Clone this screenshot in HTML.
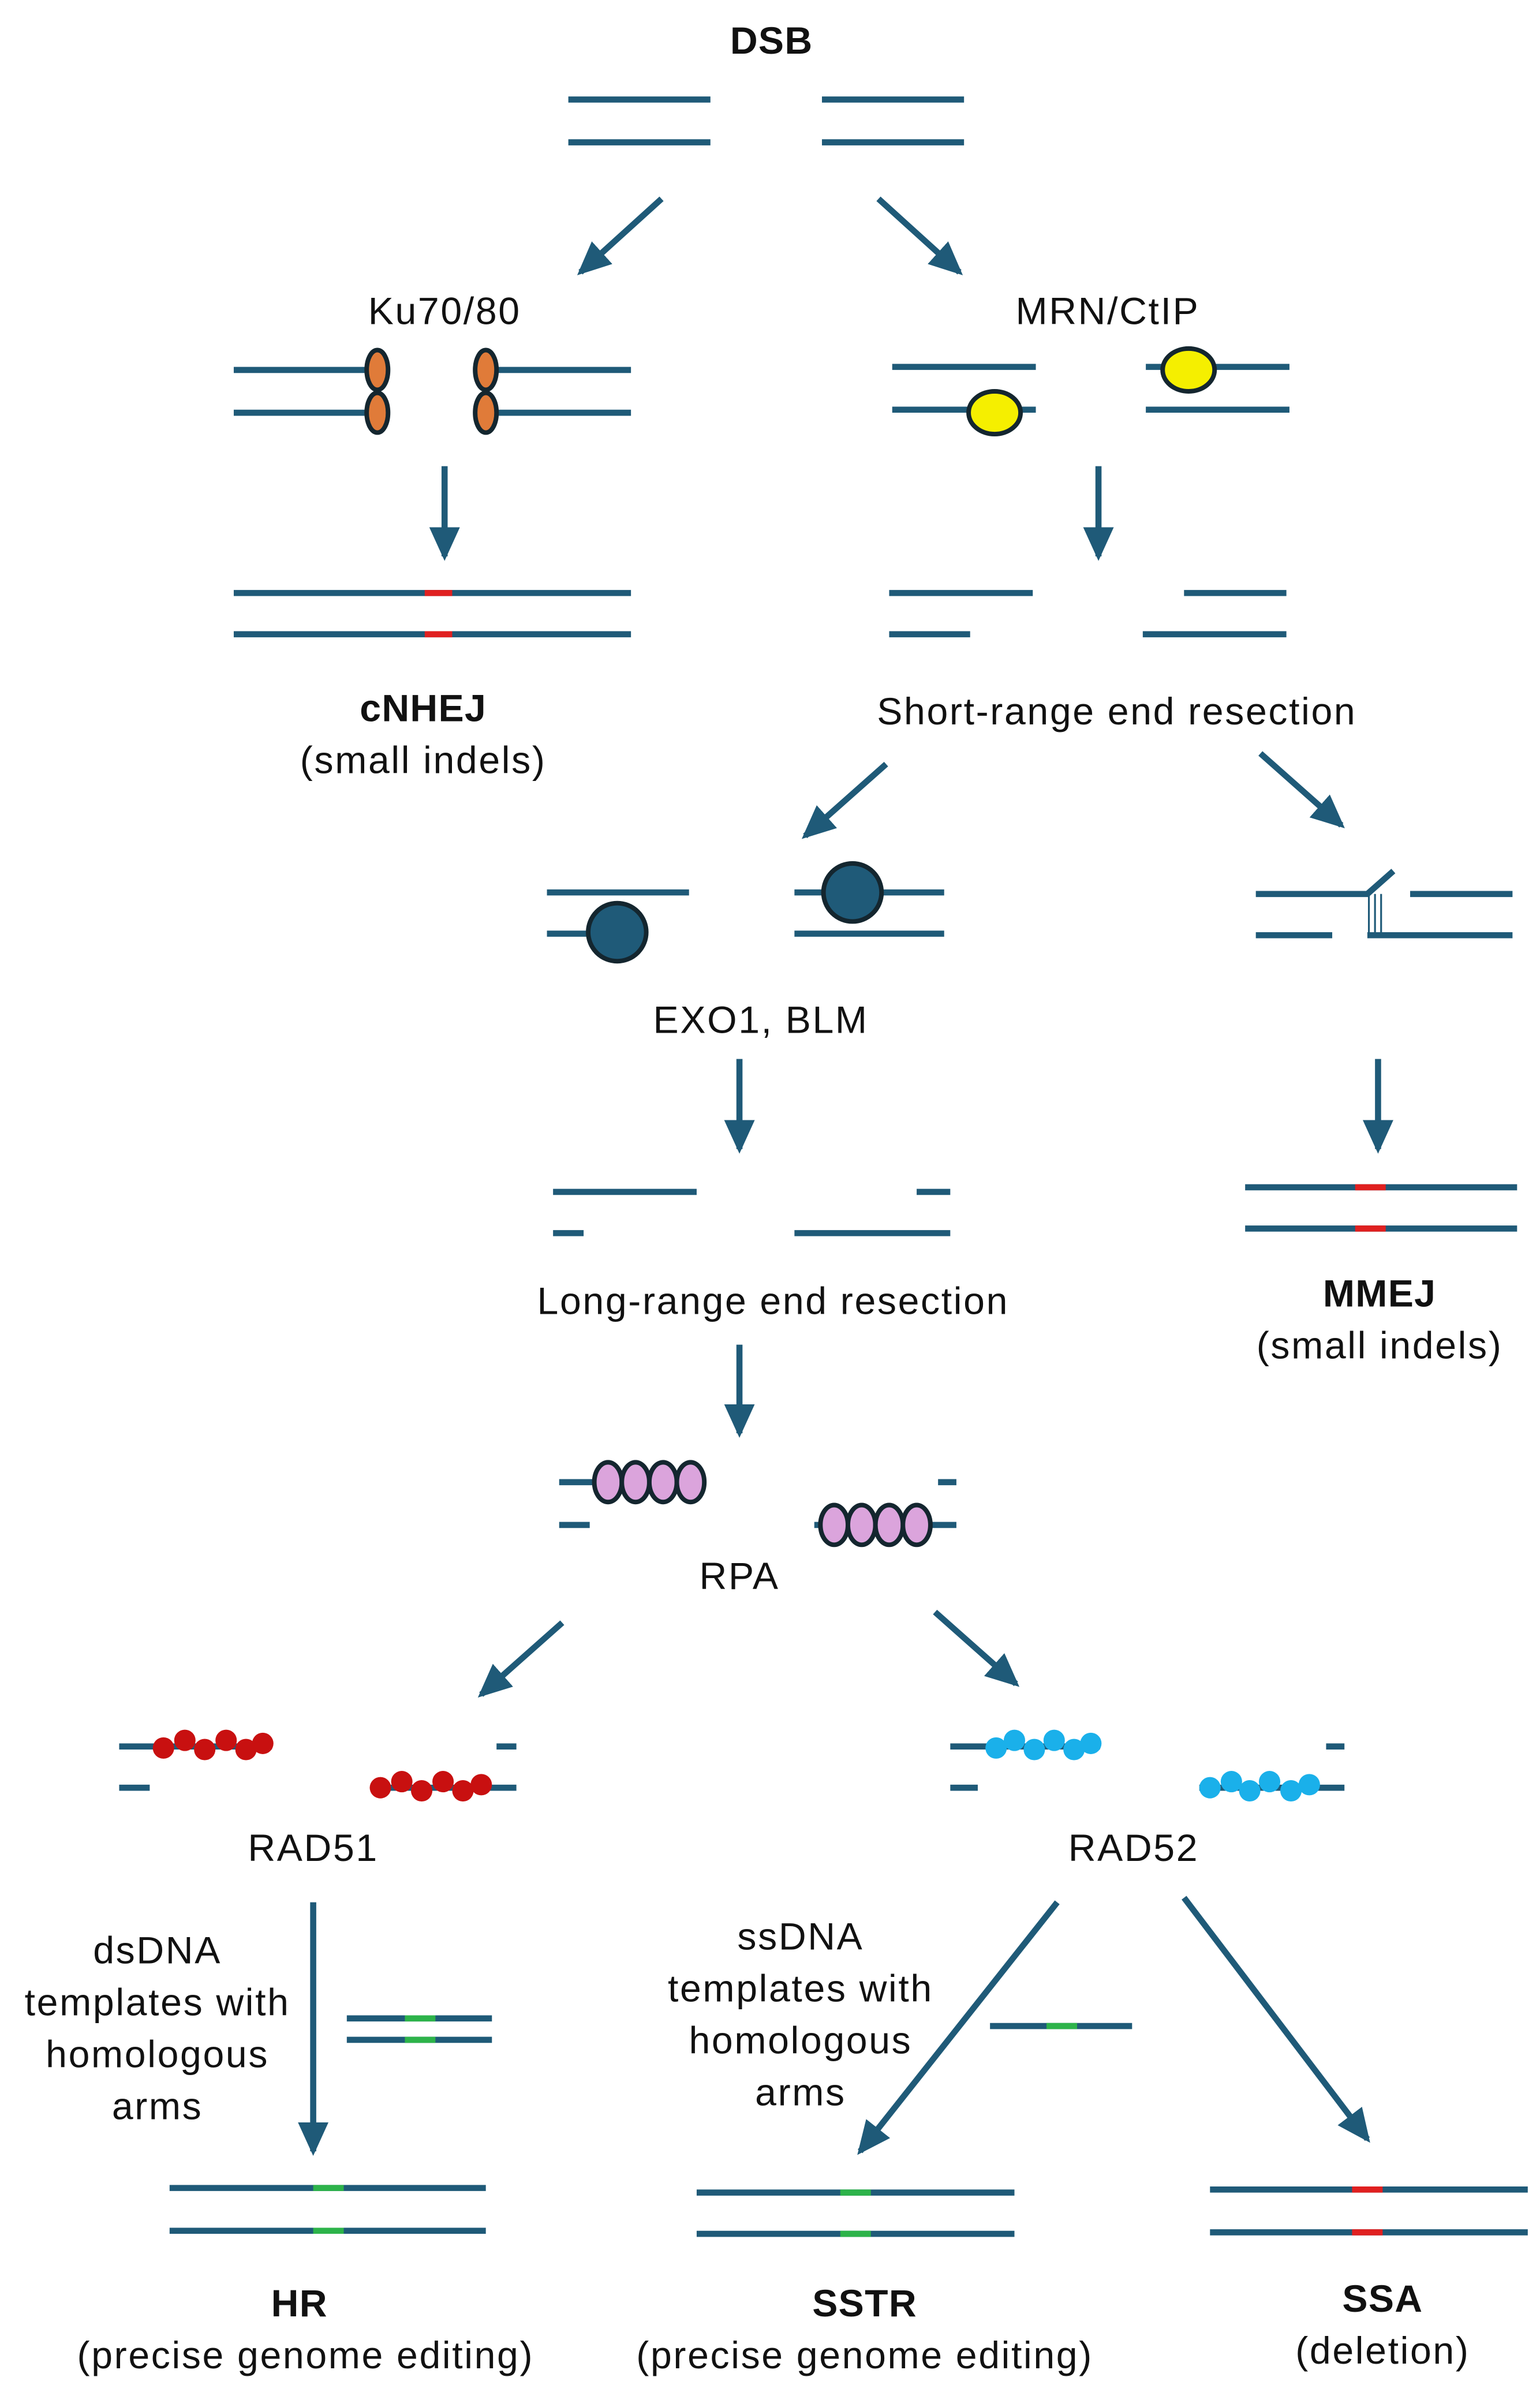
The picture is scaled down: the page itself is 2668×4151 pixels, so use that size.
<!DOCTYPE html>
<html><head><meta charset="utf-8"><style>
html,body{margin:0;padding:0;background:#fff}
svg{display:block}
text{font-family:"Liberation Sans",sans-serif;font-size:25px;letter-spacing:1px;fill:#111;text-anchor:middle}
.b{font-weight:bold;letter-spacing:0.5px}
</style></head><body>
<svg width="2668" height="4151" viewBox="0 0 1008 1568" xmlns="http://www.w3.org/2000/svg">
<defs>
<marker id="a" markerUnits="userSpaceOnUse" markerWidth="24" markerHeight="22" refX="19" refY="10" orient="auto">
<path d="M0,0 L22,10 L0,20 Z" fill="#1f5a78"/>
</marker>
</defs>
<g stroke="#1f5a78" stroke-width="4" fill="none">
<path d="M372 65H465M372 93H465M538 65H631M538 93H631"/>
<line x1="433" y1="130" x2="380" y2="178" marker-end="url(#a)"/>
<line x1="575" y1="130" x2="628" y2="178" marker-end="url(#a)"/>
<path d="M153 242H247M153 270H247M318 242H413M318 270H413"/>
<path d="M584 240H678M584 268H678M750 240H844M750 268H844"/>
<line x1="291" y1="305" x2="291" y2="364" marker-end="url(#a)"/>
<line x1="719" y1="305" x2="719" y2="364" marker-end="url(#a)"/>
<path d="M153 388H413M153 415H413"/>
<path d="M582 388H676M582 415H635M775 388H842M748 415H842"/>
<line x1="580" y1="500" x2="527" y2="547" marker-end="url(#a)"/>
<line x1="825" y1="493" x2="878" y2="540" marker-end="url(#a)"/>
<path d="M358 584H451M358 611H404M520 584H618M520 611H618"/>
<path d="M822 585H895L912 570M923 585H990M822 612H872M895 612H990"/>
<path d="M896 585V612M900 585V612M904 585V612" stroke-width="1.2"/>
<line x1="484" y1="693" x2="484" y2="752" marker-end="url(#a)"/>
<line x1="902" y1="693" x2="902" y2="752" marker-end="url(#a)"/>
<path d="M362 780H456M362 807H382M600 780H622M520 807H622"/>
<path d="M815 777H993M815 804H993"/>
<line x1="484" y1="880" x2="484" y2="938" marker-end="url(#a)"/>
<path d="M366 970H460M366 998H386M614 970H626M533 998H626"/>
<line x1="368" y1="1062" x2="315" y2="1109" marker-end="url(#a)"/>
<line x1="612" y1="1055" x2="665" y2="1102" marker-end="url(#a)"/>
<path d="M78 1143H178M78 1170H98M325 1143H338M243 1170H338"/>
<path d="M622 1143H720M622 1170H640M868 1143H880M785 1170H880"/>
<line x1="205" y1="1245" x2="205" y2="1408" marker-end="url(#a)"/>
<path d="M227 1321H322M227 1335H322"/>
<path d="M111 1432H318M111 1460H318"/>
<line x1="692" y1="1245" x2="563" y2="1408" marker-end="url(#a)"/>
<line x1="775" y1="1242" x2="895" y2="1400" marker-end="url(#a)"/>
<path d="M648 1326H741"/>
<path d="M456 1435H664M456 1462H664"/>
<path d="M792 1433H1000M792 1461H1000"/>
</g>
<g stroke-width="4">
<path d="M278 388H296M278 415H296" stroke="#e02020"/>
<path d="M887 777H907M887 804H907" stroke="#e02020"/>
<path d="M885 1433H905M885 1461H905" stroke="#e02020"/>
<path d="M265 1321H285M265 1335H285M205 1432H225M205 1460H225M685 1326H705M550 1435H570M550 1462H570" stroke="#2db34a"/>
</g>
<g stroke="#14262f" stroke-width="3">
<ellipse cx="247" cy="242" rx="7" ry="13" fill="#e07b39"/>
<ellipse cx="247" cy="270" rx="7" ry="13" fill="#e07b39"/>
<ellipse cx="318" cy="242" rx="7" ry="13" fill="#e07b39"/>
<ellipse cx="318" cy="270" rx="7" ry="13" fill="#e07b39"/>
<ellipse cx="651" cy="270" rx="17" ry="14" fill="#f5ef00"/>
<ellipse cx="778" cy="242" rx="17" ry="14" fill="#f5ef00"/>
<circle cx="404" cy="610" r="19" fill="#1f5a78"/>
<circle cx="558" cy="584" r="19" fill="#1f5a78"/>
<g fill="#dba4dc">
<ellipse cx="398" cy="970" rx="9" ry="13"/><ellipse cx="416" cy="970" rx="9" ry="13"/><ellipse cx="434" cy="970" rx="9" ry="13"/><ellipse cx="452" cy="970" rx="9" ry="13"/>
<ellipse cx="546" cy="998" rx="9" ry="13"/><ellipse cx="564" cy="998" rx="9" ry="13"/><ellipse cx="582" cy="998" rx="9" ry="13"/><ellipse cx="600" cy="998" rx="9" ry="13"/>
</g>
</g>
<g fill="#c81010">
<circle cx="107" cy="1144" r="7"/><circle cx="121" cy="1139" r="7"/><circle cx="134" cy="1145" r="7"/><circle cx="148" cy="1139" r="7"/><circle cx="161" cy="1145" r="7"/><circle cx="172" cy="1141" r="7"/>
<circle cx="249" cy="1170" r="7"/><circle cx="263" cy="1166" r="7"/><circle cx="276" cy="1172" r="7"/><circle cx="290" cy="1166" r="7"/><circle cx="303" cy="1172" r="7"/><circle cx="315" cy="1168" r="7"/>
</g>
<g fill="#1ab0ea">
<circle cx="652" cy="1144" r="7"/><circle cx="664" cy="1139" r="7"/><circle cx="677" cy="1145" r="7"/><circle cx="690" cy="1139" r="7"/><circle cx="703" cy="1145" r="7"/><circle cx="714" cy="1141" r="7"/>
<circle cx="792" cy="1170" r="7"/><circle cx="806" cy="1166" r="7"/><circle cx="818" cy="1172" r="7"/><circle cx="831" cy="1166" r="7"/><circle cx="845" cy="1172" r="7"/><circle cx="857" cy="1168" r="7"/>
</g>
<text x="505" y="35" class="b">DSB</text>
<text x="291" y="212">Ku70/80</text>
<text x="725" y="212">MRN/CtIP</text>
<text x="277" y="472" class="b">cNHEJ</text>
<text x="277" y="506">(small indels)</text>
<text x="731" y="474">Short-range end resection</text>
<text x="498" y="676">EXO1, BLM</text>
<text x="506" y="860">Long-range end resection</text>
<text x="903" y="855" class="b">MMEJ</text>
<text x="903" y="889">(small indels)</text>
<text x="484" y="1040">RPA</text>
<text x="205" y="1218">RAD51</text>
<text x="742" y="1218">RAD52</text>
<text x="103" y="1285">dsDNA</text>
<text x="103" y="1319">templates with</text>
<text x="103" y="1353">homologous</text>
<text x="103" y="1387">arms</text>
<text x="524" y="1276">ssDNA</text>
<text x="524" y="1310">templates with</text>
<text x="524" y="1344">homologous</text>
<text x="524" y="1378">arms</text>
<text x="196" y="1516" class="b">HR</text>
<text x="200" y="1550">(precise genome editing)</text>
<text x="566" y="1516" class="b">SSTR</text>
<text x="566" y="1550">(precise genome editing)</text>
<text x="905" y="1513" class="b">SSA</text>
<text x="905" y="1547">(deletion)</text>
</svg>
</body></html>
